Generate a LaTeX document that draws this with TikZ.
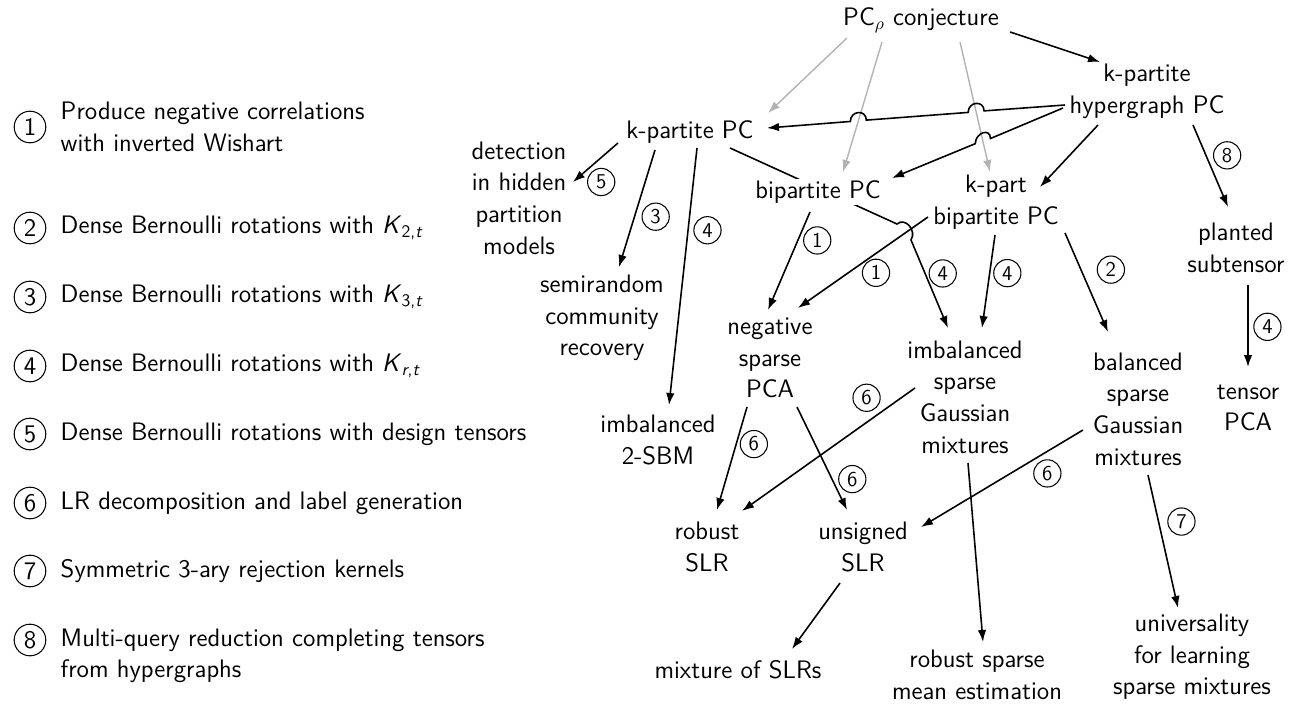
\documentclass[tikz,border=0pt]{standalone}
\usepackage{fontspec}
\usetikzlibrary{arrows.meta,calc,positioning,intersections,backgrounds}

\newcommand{\probfont}{\fontsize{14.4}{18}\selectfont\sffamily}
\newcommand{\stepfont}{\fontsize{12}{14}\selectfont\sffamily}

\tikzset{
  prob/.style={align=center, font=\probfont, inner sep=1pt, fill=white},
  stepnum/.style={draw, circle, line width=0.6pt, inner sep=0pt, minimum size=15.5pt, font=\stepfont, fill=white},
  keynum/.style={draw, circle, line width=0.6pt, inner sep=0pt, minimum size=18pt, font=\probfont},
  keytext/.style={align=left, font=\probfont, inner sep=0pt},
  reduce/.style={->, line width=0.9pt},
  faint/.style={->, line width=0.8pt, gray!60},
}

\begin{document}
\begin{tikzpicture}[x=0.02cm, y=-0.02cm, >={Latex[length=2.4mm,width=1.7mm]}]
  \useasboundingbox (0,0) rectangle (1291,703);

  % legend of the reduction steps
  \node[keynum] (k1) at (30,127) {1};
  \node[keytext, right=8pt of k1] (t1) {Produce negative correlations\\with inverted Wishart};
  \node[keynum] (k2) at (30,228) {2};
  \node[keytext, right=8pt of k2] (t2) {Dense Bernoulli rotations with \textit{K}\textsubscript{2,\textit{t}}};
  \node[keynum] (k3) at (30,297) {3};
  \node[keytext, right=8pt of k3] (t3) {Dense Bernoulli rotations with \textit{K}\textsubscript{3,\textit{t}}};
  \node[keynum] (k4) at (30,366) {4};
  \node[keytext, right=8pt of k4] (t4) {Dense Bernoulli rotations with \textit{K}\textsubscript{\textit{r},\textit{t}}};
  \node[keynum] (k5) at (30,434) {5};
  \node[keytext, right=8pt of k5] (t5) {Dense Bernoulli rotations with design tensors};
  \node[keynum] (k6) at (30,503) {6};
  \node[keytext, right=8pt of k6] (t6) {LR decomposition and label generation};
  \node[keynum] (k7) at (30,571) {7};
  \node[keytext, right=8pt of k7] (t7) {Symmetric 3-ary rejection kernels};
  \node[keynum] (k8) at (30,640) {8};
  \node[keytext, right=8pt of k8, yshift=-9pt] (t8) {Multi-query reduction completing tensors\\from hypergraphs};

  % problems
  \node[prob] (conj) at (921,20) {PC$_\rho$ conjecture};
  \node[prob] (hyper) at (1147,91) {k-partite\\hypergraph PC};
  \node[prob] (kpc) at (690,132) {k-partite PC};
  \node[prob] (bpc) at (818,192) {bipartite PC};
  \node[prob] (kbpc) at (996,202) {k-part\\bipartite PC};
  \node[prob] (detect) at (519,198) {detection\\in hidden\\partition\\models};
  \node[prob] (semi) at (602,318) {semirandom\\community\\recovery};
  \node[prob] (sbm) at (658,440) {imbalanced\\2-SBM};
  \node[prob] (negpca) at (770,358) {negative\\sparse\\PCA};
  \node[prob] (imbgm) at (965,397) {imbalanced\\sparse\\Gaussian\\mixtures};
  \node[prob] (balgm) at (1138,409) {balanced\\sparse\\Gaussian\\mixtures};
  \node[prob] (planted) at (1236,248) {planted\\subtensor};
  \node[prob] (tensor) at (1248,408) {tensor\\PCA};
  \node[prob] (rslr) at (707,547) {robust\\SLR};
  \node[prob] (uslr) at (863,547) {unsigned\\SLR};
  \node[prob] (mix) at (738,670) {mixture of SLRs};
  \node[prob] (rsme) at (977,675) {robust sparse\\mean estimation};
  \node[prob] (univ) at (1192,657) {universality\\for learning\\sparse mixtures};
  \coordinate (kink) at ($(kbpc)+(-86,28)$);

  % grey arrows out of the conjecture
  \draw[faint, name path=toK] ($(conj)+(-74,18)$) -- ($(kpc)+(78,-19)$);
  \draw[faint, name path=toB] ($(conj)+(-39,22)$) -- ($(bpc)+(25,-20)$);
  \draw[faint, name path=toKB] ($(conj)+(39,22)$) -- ($(kbpc)+(-6,-30)$);
  \draw[reduce] ($(conj)+(89,12)$) -- ($(hyper)+(-47,-29)$);

  % these two jump over the grey arrows
  \path[name path=hk] ($(hyper)+(-82,14)$) -- ($(kpc)+(77,-4)$);
  \path[name path=hb] ($(hyper)+(-84,17)$) -- ($(bpc)+(74,-14)$);
  \path[name intersections={of=toB and hk, by=c1}];
  \path[name intersections={of=toKB and hk, by=c2}];
  \path[name intersections={of=toKB and hb, by=c3}];
  \draw[reduce] ($(hyper)+(-82,14)$) -- ($(c2)!1.6mm!(hyper)$)
    .. controls +(0,-11) and +(0,-11) .. ($(c2)!1.6mm!(kpc)$)
    -- ($(c1)!1.6mm!(hyper)$)
    .. controls +(0,-11) and +(0,-11) .. ($(c1)!1.6mm!(kpc)$)
    -- ($(kpc)+(77,-4)$);
  \draw[reduce] ($(hyper)+(-84,17)$) -- ($(c3)!1.6mm!(hyper)$)
    .. controls +(0,-11) and +(0,-11) .. ($(c3)!1.6mm!(bpc.north east)$)
    -- ($(bpc)+(74,-14)$);
  \draw[reduce] ($(hyper)+(-49,34)$) -- ($(kbpc)+(44,-15)$);
  \draw[reduce] ($(hyper)+(46,34)$) -- node[stepnum, pos=0.37, right=4pt] (s8) {8} ($(planted)+(-8,-41)$);

  % k-partite PC
  \draw[reduce] ($(kpc)+(-72,11)$) -- node[stepnum, pos=1, right=8pt] (s5) {5} ($(detect)+(54,-16)$);
  \draw[reduce] ($(kpc)+(-35,18)$) -- node[stepnum, pos=0.57, right=4pt] (s3) {3} ($(semi)+(17,-51)$);
  \draw[reduce] ($(kpc)+(7,16)$) -- node[stepnum, pos=0.32, right=3pt] (s4a) {4} ($(sbm)+(11,-35)$);
  \begin{scope}[on background layer]
    \draw[reduce] ($(kpc)+(40,16)$) -- ($(kink)+(-13,-6)$)
      .. controls +(8,-7) and +(6,-10) .. ($(kink)+(1,10)$)
      -- node[stepnum, pos=0.38, right=2pt] (s4b) {4} ($(imbgm)+(-17,-69)$);
  \end{scope}

  % bipartite PC and k-part bipartite PC
  \draw[reduce] ($(bpc)+(-8,20)$) -- node[stepnum, pos=0.29, right=3pt] (s1a) {1} ($(negpca)+(-2,-48)$);
  \draw[reduce] ($(kbpc)+(-68,15)$) -- node[stepnum, pos=0.4, below=3pt] (s1b) {1} ($(negpca)+(28,-50)$);
  \draw[reduce] ($(kbpc)+(-1,33)$) -- node[stepnum, pos=0.41, right=2pt] (s4c) {4} ($(imbgm)+(17,-69)$);
  \draw[reduce] ($(kbpc)+(69,31)$) -- node[stepnum, pos=0.37, right=9pt] (s2) {2} ($(balgm)+(-30,-77)$);
  \draw[reduce] ($(planted)+(12,37)$) -- node[stepnum, pos=0.51, right=3pt] (s4d) {4} ($(tensor)+(0,-41)$);

  % lower level
  \draw[reduce] ($(negpca)+(-23,49)$) -- node[stepnum, pos=0.36, right=2pt] (s6a) {6} ($(rslr)+(10,-37)$);
  \draw[reduce] ($(negpca)+(27,49)$) -- node[stepnum, pos=0.7, right=3.5pt] (s6b) {6} ($(uslr)+(-16,-37)$);
  \draw[reduce] ($(imbgm)+(-50,-9)$) -- node[stepnum, pos=0.28, above=6pt] (s6c) {6} ($(rslr)+(35,-36)$);
  \draw[reduce] ($(imbgm)+(3,66)$) -- ($(rsme)+(6,-33)$);
  \draw[reduce] ($(balgm)+(-55,21)$) -- node[stepnum, pos=0.22, below=4.5pt] (s6d) {6} ($(uslr)+(58,-20)$);
  \draw[reduce] ($(balgm)+(10,66)$) -- node[stepnum, pos=0.35, right=5pt] (s7) {7} ($(univ)+(-14,-49)$);
  \draw[reduce] ($(uslr)+(-23,36)$) -- ($(mix)+(54,-21)$);
\end{tikzpicture}
\end{document}
